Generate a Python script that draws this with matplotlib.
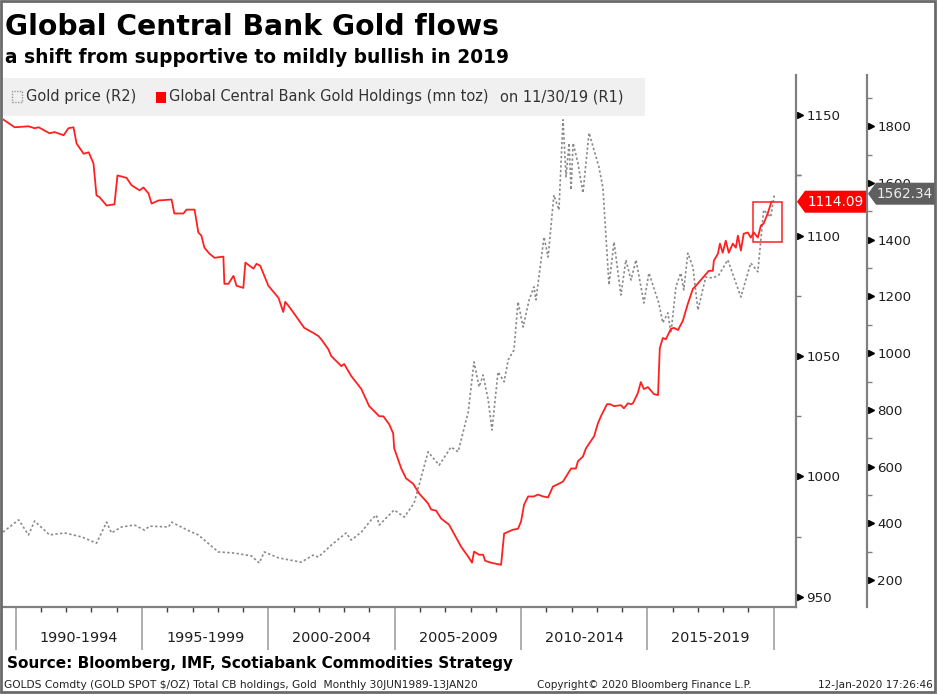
import matplotlib
matplotlib.use('Agg')
import matplotlib.pyplot as plt
import matplotlib.transforms as mtransforms
from matplotlib.patches import Rectangle, Polygon

# gold spot $/oz (R2)
gold_t = [1989.50, 1990.12, 1990.51, 1990.75, 1991.34, 1991.94, 1992.61, 1993.20, 1993.60, 1993.79,
          1994.19, 1994.70, 1995.10, 1995.30, 1996.05, 1996.17, 1996.96, 1997.23, 1998.02, 1998.66,
          1999.33, 1999.64, 1999.84, 2000.40, 2001.30, 2001.78, 2001.98, 2002.49, 2003.08, 2003.28,
          2003.68, 2004.07, 2004.27, 2004.39, 2004.98, 2005.38, 2005.77, 2006.05, 2006.32, 2006.76,
          2007.23, 2007.51, 2007.91, 2008.14, 2008.34, 2008.50, 2008.70, 2008.85, 2009.09, 2009.33,
          2009.49, 2009.72, 2009.88, 2010.08, 2010.32, 2010.51, 2010.59, 2010.91, 2011.07, 2011.30,
          2011.50, 2011.66, 2011.78, 2011.90, 2011.98, 2012.06, 2012.25, 2012.45, 2012.69, 2013.08,
          2013.24, 2013.48, 2013.68, 2013.95, 2014.15, 2014.35, 2014.55, 2014.86, 2015.06, 2015.45,
          2015.61, 2015.81, 2015.93, 2016.13, 2016.32, 2016.44, 2016.60, 2016.80, 2017.00, 2017.31,
          2017.59, 2017.83, 2018.18, 2018.70, 2019.09, 2019.37, 2019.60, 2019.88, 2020.03]
gold_v = [369, 412, 359, 408, 359, 366, 352, 330, 404, 366,
          387, 394, 376, 390, 387, 404, 369, 359, 299, 295,
          285, 260, 299, 278, 263, 288, 281, 323, 366, 341,
          369, 412, 429, 394, 447, 422, 472, 563, 652, 605,
          669, 652, 793, 969, 881, 923, 835, 729, 934, 899,
          976, 1011, 1181, 1092, 1188, 1234, 1188, 1410, 1339, 1558,
          1505, 1823, 1622, 1741, 1576, 1741, 1671, 1565, 1777, 1657,
          1583, 1241, 1392, 1205, 1329, 1258, 1329, 1177, 1283, 1177,
          1107, 1142, 1071, 1234, 1283, 1223, 1353, 1304, 1152, 1269,
          1265, 1276, 1329, 1198, 1318, 1287, 1505, 1480, 1562.34]

# global central bank gold holdings, mn toz (R1)
cb_t = [1989.50, 1989.96, 1990.51, 1990.75, 1990.91, 1991.34, 1991.54, 1991.90, 1992.09, 1992.29,
        1992.41, 1992.69, 1992.89, 1993.08, 1993.20, 1993.32, 1993.60, 1993.91, 1994.03, 1994.39,
        1994.58, 1994.90, 1995.06, 1995.26, 1995.38, 1995.65, 1996.17, 1996.28, 1996.64, 1996.76,
        1997.08, 1997.23, 1997.35, 1997.47, 1997.67, 1997.87, 1998.22, 1998.26, 1998.42, 1998.62,
        1998.74, 1999.01, 1999.09, 1999.41, 1999.53, 1999.68, 2000.00, 2000.40, 2000.59, 2000.67,
        2000.83, 2001.03, 2001.42, 2001.78, 2001.98, 2002.09, 2002.37, 2002.49, 2002.89, 2003.00,
        2003.28, 2003.68, 2003.99, 2004.39, 2004.55, 2004.78, 2004.94, 2004.98, 2005.26, 2005.45,
        2005.73, 2005.97, 2006.32, 2006.44, 2006.64, 2006.84, 2007.15, 2007.63, 2007.91, 2008.06,
        2008.14, 2008.34, 2008.50, 2008.58, 2008.81, 2009.21, 2009.33, 2009.68, 2009.88, 2010.00,
        2010.12, 2010.28, 2010.51, 2010.67, 2010.87, 2011.07, 2011.26, 2011.50, 2011.66, 2011.98,
        2012.17, 2012.25, 2012.45, 2012.57, 2012.89, 2013.04, 2013.16, 2013.40, 2013.52, 2013.68,
        2013.95, 2014.07, 2014.23, 2014.35, 2014.43, 2014.62, 2014.74, 2014.86, 2015.02, 2015.26,
        2015.42, 2015.49, 2015.61, 2015.73, 2015.93, 2016.05, 2016.21, 2016.40, 2016.60, 2016.80,
        2016.92, 2017.19, 2017.43, 2017.59, 2017.63, 2017.79, 2017.87, 2017.98, 2018.10, 2018.22,
        2018.38, 2018.50, 2018.58, 2018.70, 2018.81, 2018.97, 2019.09, 2019.21, 2019.37, 2019.49,
        2019.60, 2019.76, 2019.91]
cb_v = [1148.3, 1145.0, 1145.4, 1144.6, 1145.0, 1142.5, 1143.0, 1141.7, 1144.6, 1145.0,
        1138.3, 1134.0, 1134.6, 1130.0, 1116.7, 1116.0, 1112.5, 1113.0, 1125.0, 1124.0,
        1121.0, 1118.8, 1120.0, 1117.5, 1113.3, 1114.6, 1115.0, 1109.2, 1109.2, 1110.8,
        1110.8, 1101.3, 1100.0, 1095.0, 1092.5, 1090.8, 1091.3, 1080.0, 1080.0, 1083.3,
        1079.2, 1078.3, 1088.8, 1086.3, 1088.3, 1087.5, 1079.2, 1074.2, 1068.3, 1072.5,
        1070.4, 1067.5, 1061.7, 1059.6, 1058.3, 1057.0, 1052.9, 1050.0, 1045.8, 1046.7,
        1041.7, 1036.3, 1029.2, 1025.0, 1025.0, 1021.7, 1017.9, 1011.7, 1003.3, 999.2,
        997.0, 992.9, 988.8, 986.3, 985.8, 982.5, 980.0, 970.8, 966.7, 964.2,
        968.8, 967.5, 967.5, 965.0, 964.2, 963.3, 976.3, 977.9, 978.3, 981.3,
        988.3, 991.7, 991.7, 992.5, 991.7, 991.3, 995.8, 997.0, 997.9, 1003.3,
        1003.3, 1006.3, 1008.3, 1011.7, 1016.7, 1022.0, 1025.0, 1030.0, 1030.0, 1029.2,
        1029.6, 1028.3, 1030.4, 1030.0, 1030.4, 1034.6, 1039.2, 1036.3, 1037.1, 1034.2,
        1033.8, 1053.3, 1057.5, 1057.0, 1061.3, 1061.7, 1060.8, 1064.6, 1071.7, 1077.9,
        1079.2, 1082.5, 1085.4, 1085.4, 1089.6, 1092.5, 1096.7, 1092.9, 1097.9, 1092.9,
        1096.7, 1095.0, 1100.0, 1093.8, 1100.8, 1101.3, 1099.2, 1101.3, 1099.2, 1104.2,
        1105.0, 1109.2, 1114.09]

periods = ['1990-1994', '1995-1999', '2000-2004', '2005-2009', '2010-2014', '2015-2019']
period_edges = [1990, 1995, 2000, 2005, 2010, 2015, 2020]
r1_ticks = [950, 1000, 1050, 1100, 1150]
r2_ticks = [200, 400, 600, 800, 1000, 1200, 1400, 1600, 1800]
last_cb = 1114.09
last_gold = 1562.34
box_t = [2019.17, 2020.32]      # red highlight box
box_v = [1097.5, 1113.8]

W, H = 939, 694
fig = plt.figure(figsize=(W / 100, H / 100), dpi=100)
plt.rcParams['font.family'] = 'DejaVu Sans'

def fx(px):
    return px / W

def fy(py):
    return 1 - py / H

AX_L, AX_R, AX_T, AX_B = 3, 796, 75, 607
ax_g = fig.add_axes([fx(AX_L), fy(AX_B), fx(AX_R) - fx(AX_L), fy(AX_T) - fy(AX_B)])
ax_c = ax_g.twinx()

GREY = '#808080'
TXT = '#1e1e1e'

# lines
ax_g.plot(gold_t, gold_v, color='#8a8a8a', lw=1.2, linestyle=(0, (1.4, 1.4)))
ax_c.plot(cb_t, cb_v, color='#ff2020', lw=1.3)
ax_c.add_patch(Rectangle((box_t[0], box_v[0]), box_t[1] - box_t[0], box_v[1] - box_v[0],
                         fill=False, edgecolor='#ff2020', lw=1.1))

ax_g.set_xlim(1989.5, 2020.88)
ax_g.set_ylim(104.8, 1981)
ax_c.set_ylim(945.8, 1166.7)

# spines
for s in ['left', 'top']:
    ax_g.spines[s].set_visible(False)
    ax_c.spines[s].set_visible(False)
ax_c.spines['bottom'].set_visible(False)
ax_g.spines['bottom'].set_color(GREY)
ax_g.spines['bottom'].set_linewidth(1.6)
ax_c.spines['right'].set_color(GREY)
ax_c.spines['right'].set_linewidth(1.6)
ax_g.yaxis.tick_right()
pos_g = (867 - AX_L) / (AX_R - AX_L)
ax_g.spines['right'].set_position(('axes', pos_g))
ax_g.spines['right'].set_color(GREY)
ax_g.spines['right'].set_linewidth(1.6)

# y ticks
ax_c.set_yticks(r1_ticks)
ax_c.set_yticks([t + 25 for t in r1_ticks[:-1]] + [1125], minor=True)
ax_g.set_yticks(r2_ticks)
ax_g.set_yticks([t + 100 for t in r2_ticks], minor=True)
for a in (ax_c, ax_g):
    a.tick_params(axis='y', which='major', length=0, pad=7.5, labelsize=9.6, labelcolor=TXT)
    a.tick_params(axis='y', which='minor', length=3.5, width=1, color=GREY, direction='out')
    a.tick_params(axis='y', which='both', left=False, labelleft=False)

# triangle markers at major ticks
tri_c = mtransforms.offset_copy(mtransforms.blended_transform_factory(ax_c.transAxes, ax_c.transData),
                                fig=fig, x=3.5, y=0, units='dots')
ax_c.plot([1.0] * len(r1_ticks), r1_ticks, linestyle='none', marker='>', markersize=5,
          color='black', transform=tri_c, clip_on=False)
tri_g = mtransforms.offset_copy(mtransforms.blended_transform_factory(ax_g.transAxes, ax_g.transData),
                                fig=fig, x=3.5, y=0, units='dots')
ax_g.plot([pos_g] * len(r2_ticks), r2_ticks, linestyle='none', marker='>', markersize=5,
          color='black', transform=tri_g, clip_on=False)

# x axis: period separators and yearly ticks
ax_g.set_xticks(period_edges)
ax_g.set_xticklabels([''] * len(period_edges))
ax_g.set_xticks(range(1990, 2021), minor=True)
ax_g.tick_params(axis='x', which='major', length=31, width=1.3, color='#a8a8a8')
ax_g.tick_params(axis='x', which='minor', length=3.5, width=1, color='#404040')
xlab_tr = mtransforms.blended_transform_factory(ax_g.transData, fig.transFigure)
for i, lab in enumerate(periods):
    ax_g.text((period_edges[i] + period_edges[i + 1]) / 2, fy(638), lab, transform=xlab_tr,
              ha='center', va='center', fontsize=10.4, color=TXT)

# title block
fig.text(fx(5), fy(35), 'Global Central Bank Gold flows', fontsize=20.3, fontweight='bold',
         color='black', ha='left', va='baseline')
fig.text(fx(5), fy(63), 'a shift from supportive to mildly bullish in 2019', fontsize=13.4,
         fontweight='bold', color='black', ha='left', va='baseline')

# legend band
fig.add_artist(Rectangle((fx(3), fy(116)), fx(645) - fx(3), fy(78) - fy(116),
                         transform=fig.transFigure, facecolor='#f0f0f0', edgecolor='none', zorder=5))
fig.add_artist(Rectangle((fx(12), fy(102)), fx(10), fy(91) - fy(102), transform=fig.transFigure,
                         fill=False, edgecolor='#999999', lw=1, linestyle=(0, (1, 1)), zorder=6))
fig.text(fx(26), fy(97), 'Gold price (R2)', fontsize=10.5, color='#333333', va='center', zorder=6)
fig.add_artist(Rectangle((fx(156), fy(103)), fx(10), fy(92) - fy(103), transform=fig.transFigure,
                         facecolor='#ff0000', edgecolor='none', zorder=6))
fig.text(fx(169), fy(97), 'Global Central Bank Gold Holdings (mn toz)', fontsize=10.5, color='#333333',
         va='center', zorder=6)
fig.text(fx(500), fy(97), 'on 11/30/19 (R1)', fontsize=10.5, color='#333333', va='center', zorder=6)

# last value tags (pixel coordinates)
ident = mtransforms.IdentityTransform()
yc = ax_c.transData.transform((2000, last_cb))[1]
fig.add_artist(Polygon([[797, yc], [805, yc + 11], [866, yc + 11], [866, yc - 11], [805, yc - 11]],
                       closed=True, transform=ident, facecolor='#ff0000', edgecolor='none', zorder=7))
fig.text(836, yc, '%.2f' % last_cb, transform=ident, ha='center', va='center', fontsize=9.8,
         color='white', zorder=8)
yg = ax_g.transData.transform((2000, last_gold))[1]
fig.add_artist(Polygon([[868, yg], [876, yg + 11], [935, yg + 11], [935, yg - 11], [876, yg - 11]],
                       closed=True, transform=ident, facecolor='#5f5f5f', edgecolor='none', zorder=7))
fig.text(905, yg, '%.2f' % last_gold, transform=ident, ha='center', va='center', fontsize=9.8,
         color='#ececec', zorder=8)

# footer
fig.text(fx(7), fy(668), 'Source: Bloomberg, IMF, Scotiabank Commodities Strategy', fontsize=11,
         fontweight='bold', color='black', va='baseline')
fig.text(fx(4), fy(688), 'GOLDS Comdty (GOLD SPOT $/OZ) Total CB holdings, Gold  Monthly 30JUN1989-13JAN20',
         fontsize=7.7, color='#222222', va='baseline')
fig.text(fx(537), fy(688), 'Copyright\u00a9 2020 Bloomberg Finance L.P.', fontsize=7.5, color='#222222',
         va='baseline')
fig.text(fx(933), fy(688), '12-Jan-2020 17:26:46', fontsize=7.6, color='#222222', va='baseline', ha='right')

# outer frame
fig.add_artist(Rectangle((fx(1), fy(692)), fx(935) - fx(1), fy(1) - fy(692), transform=fig.transFigure,
                         fill=False, edgecolor='#6a6a6a', lw=2, zorder=10))

fig.savefig('out.png', dpi=100)
